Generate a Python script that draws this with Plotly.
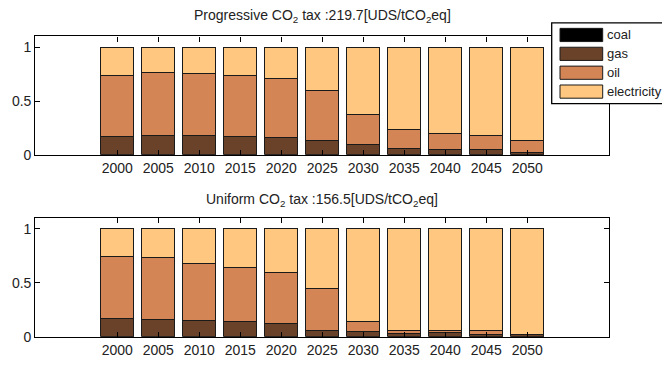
import plotly.graph_objects as go

# Final-energy shares by carrier, two CO2 tax scenarios
years = [2000, 2005, 2010, 2015, 2020, 2025, 2030, 2035, 2040, 2045, 2050]
carriers = ["coal", "gas", "oil", "electricity"]

prog_coal = [0, 0, 0, 0, 0, 0, 0, 0, 0, 0, 0]
prog_gas = [0.172, 0.178, 0.181, 0.169, 0.160, 0.133, 0.096, 0.060, 0.051, 0.048, 0.025]
prog_oil = [0.566, 0.584, 0.575, 0.569, 0.551, 0.469, 0.281, 0.180, 0.151, 0.130, 0.108]
prog_elec = [0.262, 0.238, 0.244, 0.262, 0.289, 0.398, 0.623, 0.760, 0.798, 0.822, 0.867]

unif_coal = [0, 0, 0, 0, 0, 0, 0, 0, 0, 0, 0]
unif_gas = [0.168, 0.159, 0.153, 0.141, 0.126, 0.054, 0.044, 0.032, 0.035, 0.024, 0.017]
unif_oil = [0.571, 0.571, 0.523, 0.496, 0.472, 0.396, 0.094, 0.028, 0.025, 0.030, 0.002]
unif_elec = [0.261, 0.270, 0.324, 0.363, 0.402, 0.550, 0.862, 0.940, 0.940, 0.946, 0.981]

titles = ["Progressive CO<sub>2</sub> tax :219.7[UDS/tCO<sub>2</sub>eq]",
          "Uniform CO<sub>2</sub> tax :156.5[UDS/tCO<sub>2</sub>eq]"]

colors = ["#000000", "#6a422a", "#d48555", "#ffc77f"]
FONT = "Liberation Sans, Arial, sans-serif"
W, H = 662, 365

fig = go.Figure()
panels = [("x", "y", [prog_coal, prog_gas, prog_oil, prog_elec]),
          ("x2", "y2", [unif_coal, unif_gas, unif_oil, unif_elec])]
for xa, ya, series in panels:
    for name, vals, col in zip(carriers, series, colors):
        fig.add_trace(go.Bar(
            x=years, y=vals, name=name, xaxis=xa, yaxis=ya, width=4,
            marker=dict(color=col, line=dict(color="#1a1a1a", width=1)),
            showlegend=False,
        ))

def px_x(p):
    return p / W

def px_y(p):
    return (H - p) / H

xdom = [px_x(35.3), px_x(609.3)]
ax_common = dict(showline=True, linecolor="black", linewidth=1.3, mirror="ticks",
                 ticks="inside", ticklen=5, tickcolor="black", showgrid=False,
                 zeroline=False, tickfont=dict(family=FONT, size=14, color="#222"))

fig.update_layout(
    width=W, height=H, margin=dict(l=0, r=0, t=0, b=0),
    paper_bgcolor="white", plot_bgcolor="white", barmode="stack", showlegend=False,
    xaxis=dict(domain=xdom, anchor="y", range=[1990, 2060], tickvals=years, **ax_common),
    yaxis=dict(domain=[px_y(158.3), px_y(37.3)], anchor="x", range=[0, 1.1],
               tickvals=[0, 0.5, 1], ticktext=["0", "0.5", "1"], **ax_common),
    xaxis2=dict(domain=xdom, anchor="y2", range=[1990, 2060], tickvals=years, **ax_common),
    yaxis2=dict(domain=[px_y(344.3), px_y(222.7)], anchor="x2", range=[0, 1.1],
                tickvals=[0, 0.5, 1], ticktext=["0", "0.5", "1"], **ax_common),
)

# Panel titles
cx = (xdom[0] + xdom[1]) / 2
for t, ypx in zip(titles, [28, 215.5]):
    fig.add_annotation(text=t, x=cx, y=px_y(ypx), xref="paper", yref="paper",
                       xanchor="center", yanchor="bottom", showarrow=False,
                       font=dict(family=FONT, size=14, color="#222"))

# Legend box with swatches
fig.add_shape(type="rect", xref="paper", yref="paper",
              x0=px_x(551.7), x1=px_x(680), y0=px_y(106), y1=px_y(23.3),
              line=dict(color="black", width=1.3), fillcolor="white", layer="above")
for i, (name, col) in enumerate(zip(carriers, colors)):
    top = 29 + i * 19.3
    fig.add_shape(type="rect", xref="paper", yref="paper",
                  x0=px_x(560), x1=px_x(602.7), y0=px_y(top + 13.5), y1=px_y(top),
                  line=dict(color="#1a1a1a", width=1), fillcolor=col, layer="above")
    fig.add_annotation(text=name, x=px_x(605), y=px_y(top + 6.7), xref="paper",
                       yref="paper", xanchor="left", yanchor="middle", showarrow=False,
                       font=dict(family=FONT, size=13, color="#222"))

fig.write_html("out.html")
